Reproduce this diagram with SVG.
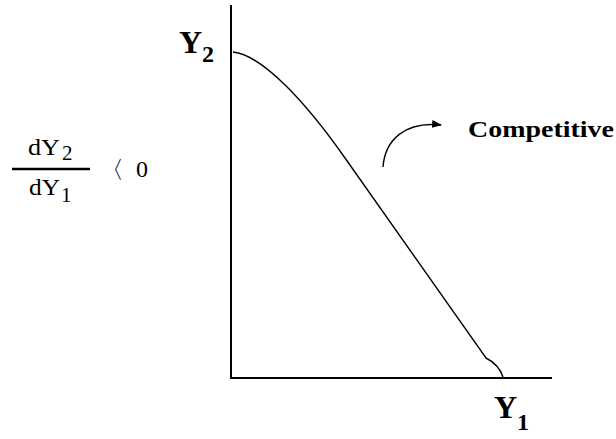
<svg xmlns="http://www.w3.org/2000/svg" width="616" height="439" viewBox="0 0 616 439">
<defs>
<style>
.ax{stroke:#000;stroke-width:2;fill:none}
.cv{stroke:#000;stroke-width:1.4;fill:none}
.lbl{font-family:"Liberation Serif","Times New Roman",serif;font-weight:bold;fill:#000}
.frac{font-family:"Liberation Serif","Times New Roman",serif;fill:#000}
</style>
<marker id="ah" markerWidth="10" markerHeight="8" refX="9" refY="4" orient="auto" markerUnits="userSpaceOnUse">
<path d="M0,0 L10,4 L0,8 Z" fill="#000"/>
</marker>
</defs>
<rect width="616" height="439" fill="#fff"/>
<g id="connectors">
<path id="y-axis" class="ax" d="M231,5 L231,378"/>
<path id="x-axis" class="ax" d="M230,378 L552,378"/>
<path id="curve" class="cv" d="M233,52 C262,55 305,101 345,158 L486,358 C494,362 500,368 503,377"/>
<path id="arrow" class="cv" d="M383,167 C385,140 405,121 441,125" marker-end="url(#ah)"/>
</g>
<g id="label-y2">
<text class="lbl" x="179" y="53" font-size="32">Y<tspan font-size="24" dy="9">2</tspan></text>
</g>
<g id="label-y1">
<text class="lbl" x="494" y="418" font-size="32">Y<tspan font-size="24" dy="12">1</tspan></text>
</g>
<g id="label-competitive">
<text class="lbl" x="468" y="137" font-size="24" textLength="146" lengthAdjust="spacingAndGlyphs">Competitive</text>
</g>
<g id="fraction">
<text class="frac" x="28" y="155" font-size="24" textLength="32" lengthAdjust="spacingAndGlyphs">dY</text>
<text class="frac" x="62" y="160" font-size="21">2</text>
<path d="M12,169 L90,169" stroke="#000" stroke-width="2.5"/>
<text class="frac" x="29" y="195" font-size="24" textLength="31" lengthAdjust="spacingAndGlyphs">dY</text>
<text class="frac" x="61" y="202" font-size="21">1</text>
<text class="frac" x="100" y="178" font-size="24" font-family="&quot;Noto Sans CJK SC&quot;,serif">〈</text>
<text class="frac" x="136" y="177" font-size="24">0</text>
</g>
</svg>
